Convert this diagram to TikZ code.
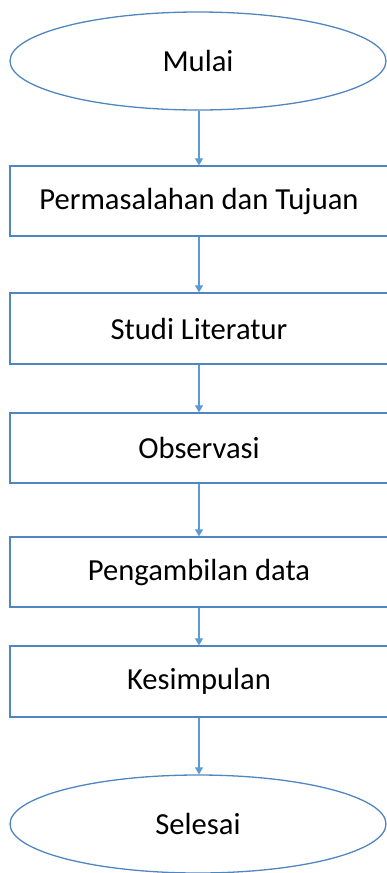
\documentclass[tikz,border=0pt]{standalone}
\usepackage{fontspec}
\setmainfont{Carlito}
\usetikzlibrary{shapes.geometric,arrows.meta}
\definecolor{bordc}{HTML}{4F86C0}
\definecolor{arrc}{HTML}{5B9BD5}
\begin{document}
\begin{tikzpicture}[x=1pt,y=-1pt,
  txt/.style={font=\fontsize{30.6}{36}\selectfont},
  procbox/.style={draw=bordc,line width=1.3pt,rectangle,minimum width=378pt,inner sep=0pt},
  term/.style={draw=bordc,line width=1.3pt,ellipse,minimum width=376pt,minimum height=98pt,inner sep=0pt},
  conn/.style={draw=arrc,line width=1.1pt,-{Triangle[length=7pt,width=8pt]}}]
\useasboundingbox (0,0) rectangle (387,873);
\node[term,txt] (mulai) at (198,61) {Mulai};
\node[procbox,minimum height=70pt,txt] (p1) at (199,201) {Permasalahan dan Tujuan};
\node[procbox,minimum height=71pt,txt] (p2) at (199,328.5) {Studi Literatur};
\node[procbox,minimum height=70pt,txt] (p3) at (199,448) {Observasi};
\node[procbox,minimum height=70pt,txt] (p4) at (199,572) {Pengambilan data};
\node[procbox,minimum height=71pt,txt] (p5) at (199,681.5) {Kesimpulan};
\node[term,txt] (selesai) at (198,824) {Selesai};
\draw[conn] (mulai.south -| p1.north) -- (p1.north);
\draw[conn] (p1) -- (p2);
\draw[conn] (p2) -- (p3);
\draw[conn] (p3) -- (p4);
\draw[conn] (p4) -- (p5);
\draw[conn] (p5.south) -- (p5.south |- selesai.north);
\end{tikzpicture}
\end{document}
